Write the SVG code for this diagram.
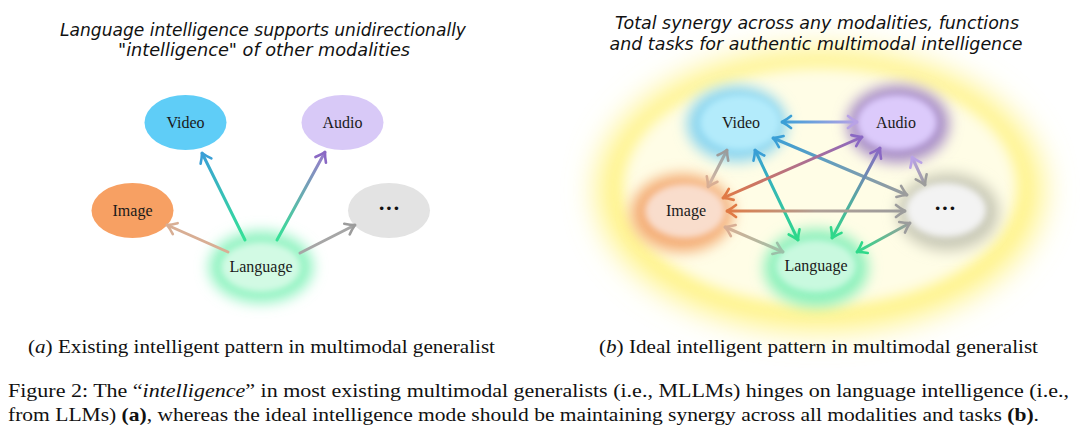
<svg xmlns="http://www.w3.org/2000/svg" width="1080" height="444" viewBox="0 0 1080 444">
<style>
.title{font-family:"DejaVu Sans","Liberation Sans",sans-serif;font-style:italic;font-size:17px;fill:#111}
.lbl{font-family:"Liberation Serif","Times New Roman",serif;font-size:16px;fill:#1a1a1a;text-anchor:middle}
.dots{font-family:"Liberation Serif","Times New Roman",serif;font-size:22px;font-weight:bold;fill:#111;text-anchor:middle}
.cap{font-family:"Liberation Serif","Times New Roman",serif;font-size:19px;fill:#111}
.ln{fill:none;stroke-width:3;stroke-linecap:round}
.hd{fill:none;stroke-width:2.6;stroke-linecap:round;stroke-linejoin:round}
</style>
<defs>
<filter id="bigblur" x="-30%" y="-30%" width="160%" height="160%"><feGaussianBlur stdDeviation="16"/></filter>
<filter id="halo" x="-50%" y="-50%" width="200%" height="200%"><feGaussianBlur stdDeviation="7"/></filter>
<filter id="soft" x="-30%" y="-30%" width="160%" height="160%"><feGaussianBlur stdDeviation="3"/></filter>
<filter id="soft2" x="-30%" y="-30%" width="160%" height="160%"><feGaussianBlur stdDeviation="7"/></filter>
<marker id="mBlue" viewBox="-11 -8 12 16" markerWidth="12" markerHeight="16" refX="0" refY="0" orient="auto-start-reverse" markerUnits="userSpaceOnUse"><path class="hd" stroke="#3a9fd6" d="M-9,-6 Q-4,-2 0,0 Q-4,2 -9,6"/></marker>
<marker id="mPurple" viewBox="-11 -8 12 16" markerWidth="12" markerHeight="16" refX="0" refY="0" orient="auto-start-reverse" markerUnits="userSpaceOnUse"><path class="hd" stroke="#8a68c4" d="M-9,-6 Q-4,-2 0,0 Q-4,2 -9,6"/></marker>
<marker id="mLPurple" viewBox="-11 -8 12 16" markerWidth="12" markerHeight="16" refX="0" refY="0" orient="auto-start-reverse" markerUnits="userSpaceOnUse"><path class="hd" stroke="#b9a2e6" d="M-9,-6 Q-4,-2 0,0 Q-4,2 -9,6"/></marker>
<marker id="mGreen" viewBox="-11 -8 12 16" markerWidth="12" markerHeight="16" refX="0" refY="0" orient="auto-start-reverse" markerUnits="userSpaceOnUse"><path class="hd" stroke="#2ed98a" d="M-9,-6 Q-4,-2 0,0 Q-4,2 -9,6"/></marker>
<marker id="mGrey" viewBox="-11 -8 12 16" markerWidth="12" markerHeight="16" refX="0" refY="0" orient="auto-start-reverse" markerUnits="userSpaceOnUse"><path class="hd" stroke="#9c9c9c" d="M-9,-6 Q-4,-2 0,0 Q-4,2 -9,6"/></marker>
<marker id="mOrange" viewBox="-11 -8 12 16" markerWidth="12" markerHeight="16" refX="0" refY="0" orient="auto-start-reverse" markerUnits="userSpaceOnUse"><path class="hd" stroke="#e07a45" d="M-9,-6 Q-4,-2 0,0 Q-4,2 -9,6"/></marker>
<marker id="mTan" viewBox="-11 -8 12 16" markerWidth="12" markerHeight="16" refX="0" refY="0" orient="auto-start-reverse" markerUnits="userSpaceOnUse"><path class="hd" stroke="#d8ae94" d="M-9,-6 Q-4,-2 0,0 Q-4,2 -9,6"/></marker>
<marker id="mGreyGreen" viewBox="-11 -8 12 16" markerWidth="12" markerHeight="16" refX="0" refY="0" orient="auto-start-reverse" markerUnits="userSpaceOnUse"><path class="hd" stroke="#9cbfa8" d="M-9,-6 Q-4,-2 0,0 Q-4,2 -9,6"/></marker>

<linearGradient id="gL1" gradientUnits="userSpaceOnUse" x1="245" y1="240" x2="202" y2="153"><stop offset="0" stop-color="#34e296"/><stop offset="1" stop-color="#3a9fd6"/></linearGradient>
<linearGradient id="gL2" gradientUnits="userSpaceOnUse" x1="277" y1="240" x2="325" y2="152"><stop offset="0" stop-color="#34e296"/><stop offset="1" stop-color="#9a78cc"/></linearGradient>

<linearGradient id="g1" gradientUnits="userSpaceOnUse" x1="782" y1="122" x2="857" y2="122"><stop offset="0" stop-color="#3a9fd6"/><stop offset="1" stop-color="#b9a2e6"/></linearGradient>
<linearGradient id="g2" gradientUnits="userSpaceOnUse" x1="773" y1="138" x2="907" y2="195"><stop offset="0" stop-color="#3a9fd6"/><stop offset="1" stop-color="#9c9c9c"/></linearGradient>
<linearGradient id="g3" gradientUnits="userSpaceOnUse" x1="755" y1="150" x2="798" y2="240"><stop offset="0" stop-color="#3a9fd6"/><stop offset="1" stop-color="#2ed98a"/></linearGradient>
<linearGradient id="g4" gradientUnits="userSpaceOnUse" x1="727" y1="150" x2="708" y2="187"><stop offset="0" stop-color="#8fa2a8"/><stop offset="1" stop-color="#e0b8a0"/></linearGradient>
<linearGradient id="g5" gradientUnits="userSpaceOnUse" x1="862" y1="137" x2="723" y2="198"><stop offset="0" stop-color="#8a68c4"/><stop offset="1" stop-color="#e07a45"/></linearGradient>
<linearGradient id="g6" gradientUnits="userSpaceOnUse" x1="880" y1="148" x2="832" y2="238"><stop offset="0" stop-color="#8a68c4"/><stop offset="1" stop-color="#2ed98a"/></linearGradient>
<linearGradient id="g7" gradientUnits="userSpaceOnUse" x1="912" y1="157" x2="925" y2="185"><stop offset="0" stop-color="#b9a2e6"/><stop offset="1" stop-color="#9c9c9c"/></linearGradient>
<linearGradient id="g8" gradientUnits="userSpaceOnUse" x1="727" y1="211" x2="905" y2="211"><stop offset="0" stop-color="#e07a45"/><stop offset="0.5" stop-color="#b0a096"/><stop offset="1" stop-color="#9c9c9c"/></linearGradient>
<linearGradient id="g9" gradientUnits="userSpaceOnUse" x1="725" y1="227" x2="783" y2="252"><stop offset="0" stop-color="#d8ae94"/><stop offset="1" stop-color="#9cbfa8"/></linearGradient>
<linearGradient id="g10" gradientUnits="userSpaceOnUse" x1="910" y1="223" x2="857" y2="252"><stop offset="0" stop-color="#9c9c9c"/><stop offset="1" stop-color="#2ed98a"/></linearGradient>
</defs>

<rect width="1080" height="444" fill="#ffffff"/>

<!-- Titles -->
<g id="title-a">
<text class="title" x="263" y="36" text-anchor="middle" textLength="406" lengthAdjust="spacingAndGlyphs">Language intelligence supports unidirectionally</text>
<text class="title" x="264" y="56" text-anchor="middle" textLength="292" lengthAdjust="spacingAndGlyphs">"intelligence" of other modalities</text>
</g>

<!-- Panel b background glow -->
<g id="synergy-field">
<ellipse cx="820" cy="190" rx="222" ry="140" fill="#fff27a" filter="url(#bigblur)"/>
<ellipse cx="820" cy="187" rx="198" ry="120" fill="#fffde6" filter="url(#soft2)"/>
</g>

<g id="title-b">
<text class="title" x="817" y="29" text-anchor="middle" textLength="404" lengthAdjust="spacingAndGlyphs">Total synergy across any modalities, functions</text>
<text class="title" x="816" y="50" text-anchor="middle" textLength="413" lengthAdjust="spacingAndGlyphs">and tasks for authentic multimodal intelligence</text>
</g>

<!-- Panel a nodes -->
<g id="a-video"><ellipse cx="185.5" cy="122.5" rx="41" ry="27.5" fill="#5fcdf7"/><text class="lbl" x="185.5" y="128">Video</text></g>
<g id="a-audio"><ellipse cx="342.5" cy="122.5" rx="41" ry="27.5" fill="#d8c9f7"/><text class="lbl" x="342.5" y="128">Audio</text></g>
<g id="a-image"><ellipse cx="132.5" cy="210.5" rx="41" ry="27.5" fill="#f7a063"/><text class="lbl" x="132.5" y="216">Image</text></g>
<g id="a-more"><ellipse cx="389" cy="210.5" rx="41" ry="27.5" fill="#e3e3e3"/><text class="dots" x="389" y="215">···</text></g>
<g id="a-language">
<ellipse cx="261" cy="267" rx="52" ry="36" fill="#8ef3c0" filter="url(#halo)"/>
<ellipse cx="261" cy="267" rx="40" ry="25" fill="#d2fae4" filter="url(#soft)"/>
<text class="lbl" x="261" y="272">Language</text>
</g>

<!-- Panel b nodes -->
<g id="b-video">
<ellipse cx="737" cy="124" rx="50" ry="38" fill="#8cd6f0" filter="url(#halo)"/>
<ellipse cx="740" cy="122.5" rx="40" ry="27.5" fill="#b3ebfb" filter="url(#soft)"/>
<text class="lbl" x="741" y="128">Video</text>
</g>
<g id="b-audio">
<ellipse cx="898" cy="124" rx="51" ry="39" fill="#a88ec8" filter="url(#halo)"/>
<ellipse cx="897" cy="122.5" rx="40" ry="27.5" fill="#dccafb" filter="url(#soft)"/>
<text class="lbl" x="896" y="128">Audio</text>
</g>
<g id="b-image">
<ellipse cx="682" cy="213" rx="51" ry="39" fill="#f4ad76" filter="url(#halo)"/>
<ellipse cx="685" cy="211" rx="40" ry="27" fill="#f9ddcc" filter="url(#soft)"/>
<text class="lbl" x="686" y="216">Image</text>
</g>
<g id="b-more">
<ellipse cx="948" cy="212" rx="51" ry="39" fill="#cacab8" filter="url(#halo)"/>
<ellipse cx="946" cy="210" rx="40" ry="27" fill="#f3f3f3" filter="url(#soft)"/>
<text class="dots" x="945" y="215">···</text>
</g>
<g id="b-language">
<ellipse cx="816" cy="268" rx="52" ry="39" fill="#8cf1bc" filter="url(#halo)"/>
<ellipse cx="816" cy="266" rx="40" ry="26" fill="#c9f9df" filter="url(#soft)"/>
<text class="lbl" x="816" y="271">Language</text>
</g>

<!-- Connectors -->
<g id="connectors">
<line class="ln" x1="245" y1="240" x2="202" y2="153" stroke="url(#gL1)" marker-end="url(#mBlue)"/>
<line class="ln" x1="277" y1="240" x2="325" y2="152" stroke="url(#gL2)" marker-end="url(#mPurple)"/>
<line class="ln" x1="228" y1="252" x2="167" y2="225" stroke="#d8ae94" marker-end="url(#mTan)"/>
<line class="ln" x1="300" y1="253" x2="355" y2="225" stroke="#a6a6a6" marker-end="url(#mGrey)"/>

<line class="ln" x1="782" y1="122" x2="857" y2="122" stroke="url(#g1)" marker-start="url(#mBlue)" marker-end="url(#mLPurple)"/>
<line class="ln" x1="773" y1="138" x2="907" y2="195" stroke="url(#g2)" marker-start="url(#mBlue)" marker-end="url(#mGrey)"/>
<line class="ln" x1="755" y1="150" x2="798" y2="240" stroke="url(#g3)" marker-start="url(#mBlue)" marker-end="url(#mGreen)"/>
<line class="ln" x1="727" y1="150" x2="708" y2="187" stroke="url(#g4)" marker-start="url(#mGrey)" marker-end="url(#mTan)"/>
<line class="ln" x1="862" y1="137" x2="723" y2="198" stroke="url(#g5)" marker-start="url(#mPurple)" marker-end="url(#mOrange)"/>
<line class="ln" x1="880" y1="148" x2="832" y2="238" stroke="url(#g6)" marker-start="url(#mPurple)" marker-end="url(#mGreen)"/>
<line class="ln" x1="912" y1="157" x2="925" y2="185" stroke="url(#g7)" marker-start="url(#mLPurple)" marker-end="url(#mGrey)"/>
<line class="ln" x1="727" y1="211" x2="905" y2="211" stroke="url(#g8)" marker-start="url(#mOrange)" marker-end="url(#mGrey)"/>
<line class="ln" x1="725" y1="227" x2="783" y2="252" stroke="url(#g9)" marker-start="url(#mTan)" marker-end="url(#mGreyGreen)"/>
<line class="ln" x1="910" y1="223" x2="857" y2="252" stroke="url(#g10)" marker-start="url(#mGrey)" marker-end="url(#mGreen)"/>
</g>

<!-- Captions -->
<g id="captions">
<text class="cap" x="28" y="353" textLength="467" lengthAdjust="spacingAndGlyphs">(<tspan font-style="italic">a</tspan>) Existing intelligent pattern in multimodal generalist</text>
<text class="cap" x="599" y="353" textLength="439" lengthAdjust="spacingAndGlyphs">(<tspan font-style="italic">b</tspan>) Ideal intelligent pattern in multimodal generalist</text>
<text class="cap" x="8" y="397" textLength="1061" lengthAdjust="spacingAndGlyphs">Figure 2: The “<tspan font-style="italic">intelligence</tspan>” in most existing multimodal generalists (i.e., MLLMs) hinges on language intelligence (i.e.,</text>
<text class="cap" x="8" y="421" textLength="1031" lengthAdjust="spacingAndGlyphs">from LLMs) <tspan font-weight="bold">(a)</tspan>, whereas the ideal intelligence mode should be maintaining synergy across all modalities and tasks <tspan font-weight="bold">(b)</tspan>.</text>
</g>
</svg>
